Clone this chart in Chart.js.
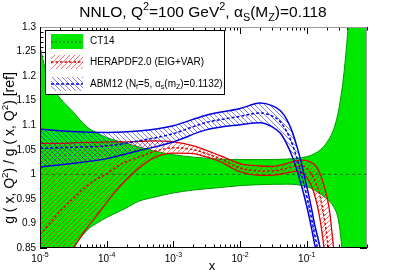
<!DOCTYPE html>
<html><head><meta charset="utf-8">
<script src="https://cdn.jsdelivr.net/npm/chart.js@4/dist/chart.umd.min.js"></script>
<style>html,body{margin:0;padding:0;background:#fff}</style>
</head><body>
<canvas id="c" width="407" height="276"></canvas>
<script>
// ---- data ----
const ct14X  = [1e-5,1.2e-5,1.5e-5,2e-5,3e-5,5e-5,7e-5,1e-4,2e-4,3e-4,5e-4,1e-3,2e-3,5e-3,1e-2,2e-2,5e-2,0.07,0.1,0.13,0.16,0.2,0.25,0.3,0.33,0.35,0.4,0.45,0.5,0.6,0.8];
const ct14Up = [1.26,1.215,1.18,1.155,1.13,1.097,1.085,1.075,1.063,1.056,1.048,1.040,1.035,1.031,1.030,1.030,1.031,1.033,1.036,1.042,1.05,1.065,1.09,1.13,1.165,1.19,1.27,1.36,1.45,1.6,1.7];
const ct14Lo = [0.62,0.66,0.71,0.76,0.84,0.885,0.90,0.912,0.932,0.945,0.953,0.962,0.968,0.973,0.977,0.979,0.98,0.979,0.975,0.968,0.96,0.95,0.935,0.905,0.86,0.82,0.7,0.6,0.55,0.5,0.4];
const ct14RefX = [1e-5,0.8];
const ct14RefY = [1,1];

const heraX   = [1e-5,1.5e-5,2e-5,3e-5,5e-5,7e-5,1e-4,1.5e-4,2e-4,3e-4,5e-4,1e-3,2e-3,3e-3,5e-3,1e-2,2e-2,3e-2,5e-2,0.07,0.09,0.11,0.13,0.15,0.17,0.2,0.22,0.25,0.3];
const heraUp  = [1.063,1.063,1.063,1.064,1.065,1.065,1.066,1.066,1.066,1.067,1.068,1.066,1.058,1.05,1.038,1.022,1.017,1.016,1.022,1.028,1.029,1.026,1.02,1.008,0.99,0.955,0.925,0.855,0.75];
const heraLo  = [0.75,0.785,0.81,0.845,0.89,0.915,0.943,0.972,0.99,1.012,1.033,1.043,1.042,1.036,1.026,1.005,0.998,0.998,1.003,1.006,1.0,0.985,0.96,0.925,0.88,0.8,0.75,0.7,0.6];
const heraMid = [0.877,0.905,0.925,0.948,0.976,0.99,1.001,1.018,1.026,1.035,1.046,1.054,1.05,1.043,1.032,1.013,1.007,1.007,1.012,1.017,1.016,1.006,0.99,0.967,0.935,0.875,0.83,0.78,0.68];

const abmX   = [1e-5,3e-5,1e-4,3e-4,1e-3,3e-3,1e-2,2e-2,3e-2,4e-2,5e-2,6e-2,7e-2,8e-2,9e-2,0.1,0.11,0.12,0.13,0.15,0.17,0.2];
const abmUp  = [1.092,1.087,1.085,1.088,1.099,1.12,1.134,1.145,1.14,1.13,1.112,1.088,1.06,1.032,1.003,0.975,0.95,0.925,0.90,0.865,0.83,0.78];
const abmLo  = [1.015,1.022,1.032,1.048,1.066,1.09,1.101,1.105,1.097,1.084,1.062,1.038,1.012,0.985,0.96,0.935,0.91,0.885,0.86,0.82,0.78,0.72];
const abmMid = [1.053,1.055,1.058,1.068,1.083,1.105,1.118,1.125,1.119,1.107,1.087,1.063,1.036,1.008,0.982,0.955,0.93,0.905,0.88,0.84,0.80,0.75];

const xMajorTicks = [1e-5,1e-4,1e-3,1e-2,1e-1];
const xTickExps   = ['-5','-4','-3','-2','-1'];
const yMajorTicks = [0.85,0.9,0.95,1,1.05,1.1,1.15,1.2,1.25,1.3];
const yTickLabels = ['0.85','0.9','0.95','1','1.05','1.1','1.15','1.2','1.25','1.3'];
const legendLabels = ['CT14','HERAPDF2.0 (EIG+VAR)','ABM12'];

// ---- styles ----
const FONT = '"Liberation Sans", Arial, Helvetica, sans-serif';
const GREEN = 'rgb(0,232,0)';
function hatch(color, dir, s) {
  const c = document.createElement('canvas'); c.width = s; c.height = s;
  const g = c.getContext('2d'); g.strokeStyle = color; g.lineWidth = 1;
  g.beginPath();
  for (let k = -1; k <= 1; k++) {
    if (dir === '/') { g.moveTo(k*s - 1, s + 1); g.lineTo(k*s + s + 1, -1); }
    else { g.moveTo(k*s - 1, -1); g.lineTo(k*s + s + 1, s + 1); }
  }
  g.stroke();
  return g.createPattern(c, 'repeat');
}
const ctxMain = document.getElementById('c').getContext('2d');
const redHatch = hatch('rgba(255,0,0,0.55)', '/', 5);
const blueHatch = hatch('rgba(0,0,255,0.5)', '\\', 5);

const pts = (xs, ys) => xs.map((x, i) => ({x, y: ys[i]}));
const base = {pointRadius: 0, clip: 0, cubicInterpolationMode: 'monotone'};

function richText(ctx, segs, x, y, size, align) {
  let w = 0;
  const parts = segs.map(s => {
    const fs = (s.sup || s.sub) ? size * 0.7 : size;
    ctx.font = fs + 'px ' + FONT;
    const m = ctx.measureText(s.t).width;
    w += m;
    return {t: s.t, fs, m, dy: s.sup ? -size * 0.42 : (s.sub ? size * 0.28 : 0)};
  });
  let cx = align === 'center' ? x - w / 2 : (align === 'right' ? x - w : x);
  ctx.textAlign = 'left';
  for (const p of parts) { ctx.font = p.fs + 'px ' + FONT; ctx.fillText(p.t, cx, y + p.dy); cx += p.m; }
  return w;
}

const axesPlugin = {
  id: 'rootAxes',
  beforeDatasetsDraw(chart) {
    const {ctx, chartArea: a, scales: {x, y}} = chart;
    ctx.save(); ctx.strokeStyle = '#000'; ctx.lineWidth = 1;
    ctx.beginPath();
    for (let e = -5; e <= -1; e++) {
      for (let m = 1; m <= 9; m++) {
        const v = m * Math.pow(10, e);
        if (v > x.max) continue;
        const px = Math.round(x.getPixelForValue(v)) + 0.5;
        const L = m === 1 ? 7 : 3.5;
        ctx.moveTo(px, a.bottom); ctx.lineTo(px, a.bottom - L);
        ctx.moveTo(px, a.top); ctx.lineTo(px, a.top + L);
      }
    }
    for (let i = 0; i <= 45; i++) {
      const v = 0.85 + i * 0.01;
      const py = Math.round(y.getPixelForValue(v)) + 0.5;
      const L = i % 5 === 0 ? 7 : 3.5;
      ctx.moveTo(a.left, py); ctx.lineTo(a.left + L, py);
      ctx.moveTo(a.right, py); ctx.lineTo(a.right - L, py);
    }
    ctx.stroke(); ctx.restore();
  },
  afterDatasetsDraw(chart) {
    const {ctx, chartArea: a} = chart;
    ctx.save(); ctx.lineWidth = 1;
    ctx.strokeStyle = '#999';
    ctx.beginPath();
    ctx.moveTo(a.left, a.top + 0.5); ctx.lineTo(a.right, a.top + 0.5);
    ctx.moveTo(a.right - 0.5, a.top); ctx.lineTo(a.right - 0.5, a.bottom);
    ctx.stroke();
    ctx.strokeStyle = '#000';
    ctx.beginPath();
    ctx.moveTo(a.left + 0.5, a.top); ctx.lineTo(a.left + 0.5, a.bottom + 0.5);
    ctx.moveTo(a.left, a.bottom - 0.5); ctx.lineTo(a.right, a.bottom - 0.5);
    ctx.stroke();
    ctx.restore();
  },
  afterDraw(chart) {
    const {ctx, chartArea: a, scales: {x, y}} = chart;
    ctx.save();
    ctx.fillStyle = '#000';
    ctx.textBaseline = 'alphabetic';
    // title
    richText(ctx, [{t:'NNLO, Q'},{t:'2',sup:1},{t:'=100 GeV'},{t:'2',sup:1},{t:', α'},{t:'S',sub:1},{t:'(M'},{t:'Z',sub:1},{t:')=0.118'}], 203, 17, 15.5, 'center');
    // y tick labels
    ctx.font = '10px ' + FONT; ctx.textAlign = 'right'; ctx.textBaseline = 'middle';
    yMajorTicks.forEach((v, i) => ctx.fillText(yTickLabels[i], a.left - 4, y.getPixelForValue(v)));
    // x tick labels
    ctx.textBaseline = 'alphabetic';
    xMajorTicks.forEach((v, i) => {
      const px = x.getPixelForValue(v);
      ctx.font = '10px ' + FONT; const w1 = ctx.measureText('10').width;
      ctx.font = '7px ' + FONT; const w2 = ctx.measureText(xTickExps[i]).width;
      const x0 = px - (w1 + w2) / 2;
      ctx.textAlign = 'left';
      ctx.font = '10px ' + FONT; ctx.fillText('10', x0, 262);
      ctx.font = '7px ' + FONT; ctx.fillText(xTickExps[i], x0 + w1, 257);
    });
    // axis titles
    ctx.font = '13px ' + FONT; ctx.textAlign = 'center';
    ctx.fillText('x', 212, 270);
    ctx.save();
    ctx.translate(13.5, 148); ctx.rotate(-Math.PI / 2);
    richText(ctx, [{t:'g ( x, Q'},{t:'2',sup:1},{t:') / g ( x, Q'},{t:'2',sup:1},{t:') [ref]'}], 0, 0, 14, 'center');
    ctx.restore();
    // legend
    ctx.fillStyle = '#fff'; ctx.fillRect(45, 30, 180, 65);
    ctx.strokeStyle = '#000'; ctx.lineWidth = 1; ctx.strokeRect(45.5, 30.5, 179, 64);
    const rows = [41.5, 62, 84];
    // CT14
    ctx.fillStyle = GREEN; ctx.fillRect(51, rows[0] - 7.5, 32, 15);
    ctx.strokeStyle = 'rgba(20,90,20,0.9)'; ctx.setLineDash([2, 2]);
    ctx.beginPath(); ctx.moveTo(51, rows[0] + 0.5); ctx.lineTo(83, rows[0] + 0.5); ctx.stroke();
    // HERA
    ctx.setLineDash([]);
    ctx.fillStyle = redHatch; ctx.fillRect(51, rows[1] - 7, 32, 14);
    ctx.strokeStyle = '#e00000'; ctx.lineWidth = 1.5; ctx.setLineDash([2.5, 2]);
    ctx.beginPath(); ctx.moveTo(51, rows[1]); ctx.lineTo(83, rows[1]); ctx.stroke();
    // ABM
    ctx.setLineDash([]);
    ctx.fillStyle = blueHatch; ctx.fillRect(51, rows[2] - 7, 32, 14);
    ctx.strokeStyle = '#0000dd'; ctx.lineWidth = 1.5; ctx.setLineDash([3, 2]);
    ctx.beginPath(); ctx.moveTo(51, rows[2]); ctx.lineTo(83, rows[2]); ctx.stroke();
    ctx.setLineDash([]);
    ctx.fillStyle = '#000'; ctx.textBaseline = 'middle';
    ctx.font = '10px ' + FONT; ctx.textAlign = 'left';
    ctx.fillText(legendLabels[0], 90, rows[0]);
    ctx.fillText(legendLabels[1], 90, rows[1]);
    richText(ctx, [{t:legendLabels[2] + ' (N'},{t:'f',sub:1},{t:'=5, α'},{t:'s',sub:1},{t:'(m'},{t:'Z',sub:1},{t:')=0.1132)'}], 90, rows[2], 10, 'left');
    ctx.restore();
  }
};

new Chart(ctxMain, {
  type: 'line',
  data: {
    datasets: [
      {...base, label: 'ABM12 central', data: pts(abmX, abmMid), borderColor: '#0000dd', borderWidth: 1.5, borderDash: [3, 2], fill: false, order: 1},
      {...base, label: 'ABM12 low', data: pts(abmX, abmLo), borderColor: '#0000dd', borderWidth: 1.5, fill: false, order: 2},
      {...base, label: 'ABM12 up', data: pts(abmX, abmUp), borderColor: '#0000dd', borderWidth: 1.5, backgroundColor: blueHatch, fill: '-1', order: 3},
      {...base, label: 'HERA central', data: pts(heraX, heraMid), borderColor: '#e00000', borderWidth: 1.5, borderDash: [2.5, 2], fill: false, order: 4},
      {...base, label: 'HERA low', data: pts(heraX, heraLo), borderColor: '#e00000', borderWidth: 1.3, fill: false, order: 5},
      {...base, label: 'HERA up', data: pts(heraX, heraUp), borderColor: '#e00000', borderWidth: 1.3, backgroundColor: redHatch, fill: '-1', order: 6},
      {...base, label: 'CT14 central', data: pts(ct14RefX, ct14RefY), borderColor: 'rgba(20,90,20,0.85)', borderWidth: 1, borderDash: [3, 3], fill: false, order: 7},
      {...base, label: 'CT14 low', data: pts(ct14X, ct14Lo), borderColor: '#009a00', borderWidth: 1, fill: false, order: 8},
      {...base, label: 'CT14 up', data: pts(ct14X, ct14Up), borderColor: '#009a00', borderWidth: 1, backgroundColor: GREEN, fill: '-1', order: 9}
    ]
  },
  options: {
    responsive: false, animation: false, devicePixelRatio: 1,
    layout: {padding: {left: 40, right: 40, top: 27, bottom: 28}},
    plugins: {legend: {display: false}, tooltip: {enabled: false}, title: {display: false}},
    scales: {
      x: {type: 'logarithmic', min: 1e-5, max: 0.8, display: false},
      y: {type: 'linear', min: 0.85, max: 1.3, display: false}
    }
  },
  plugins: [axesPlugin]
});
</script>
</body></html>
